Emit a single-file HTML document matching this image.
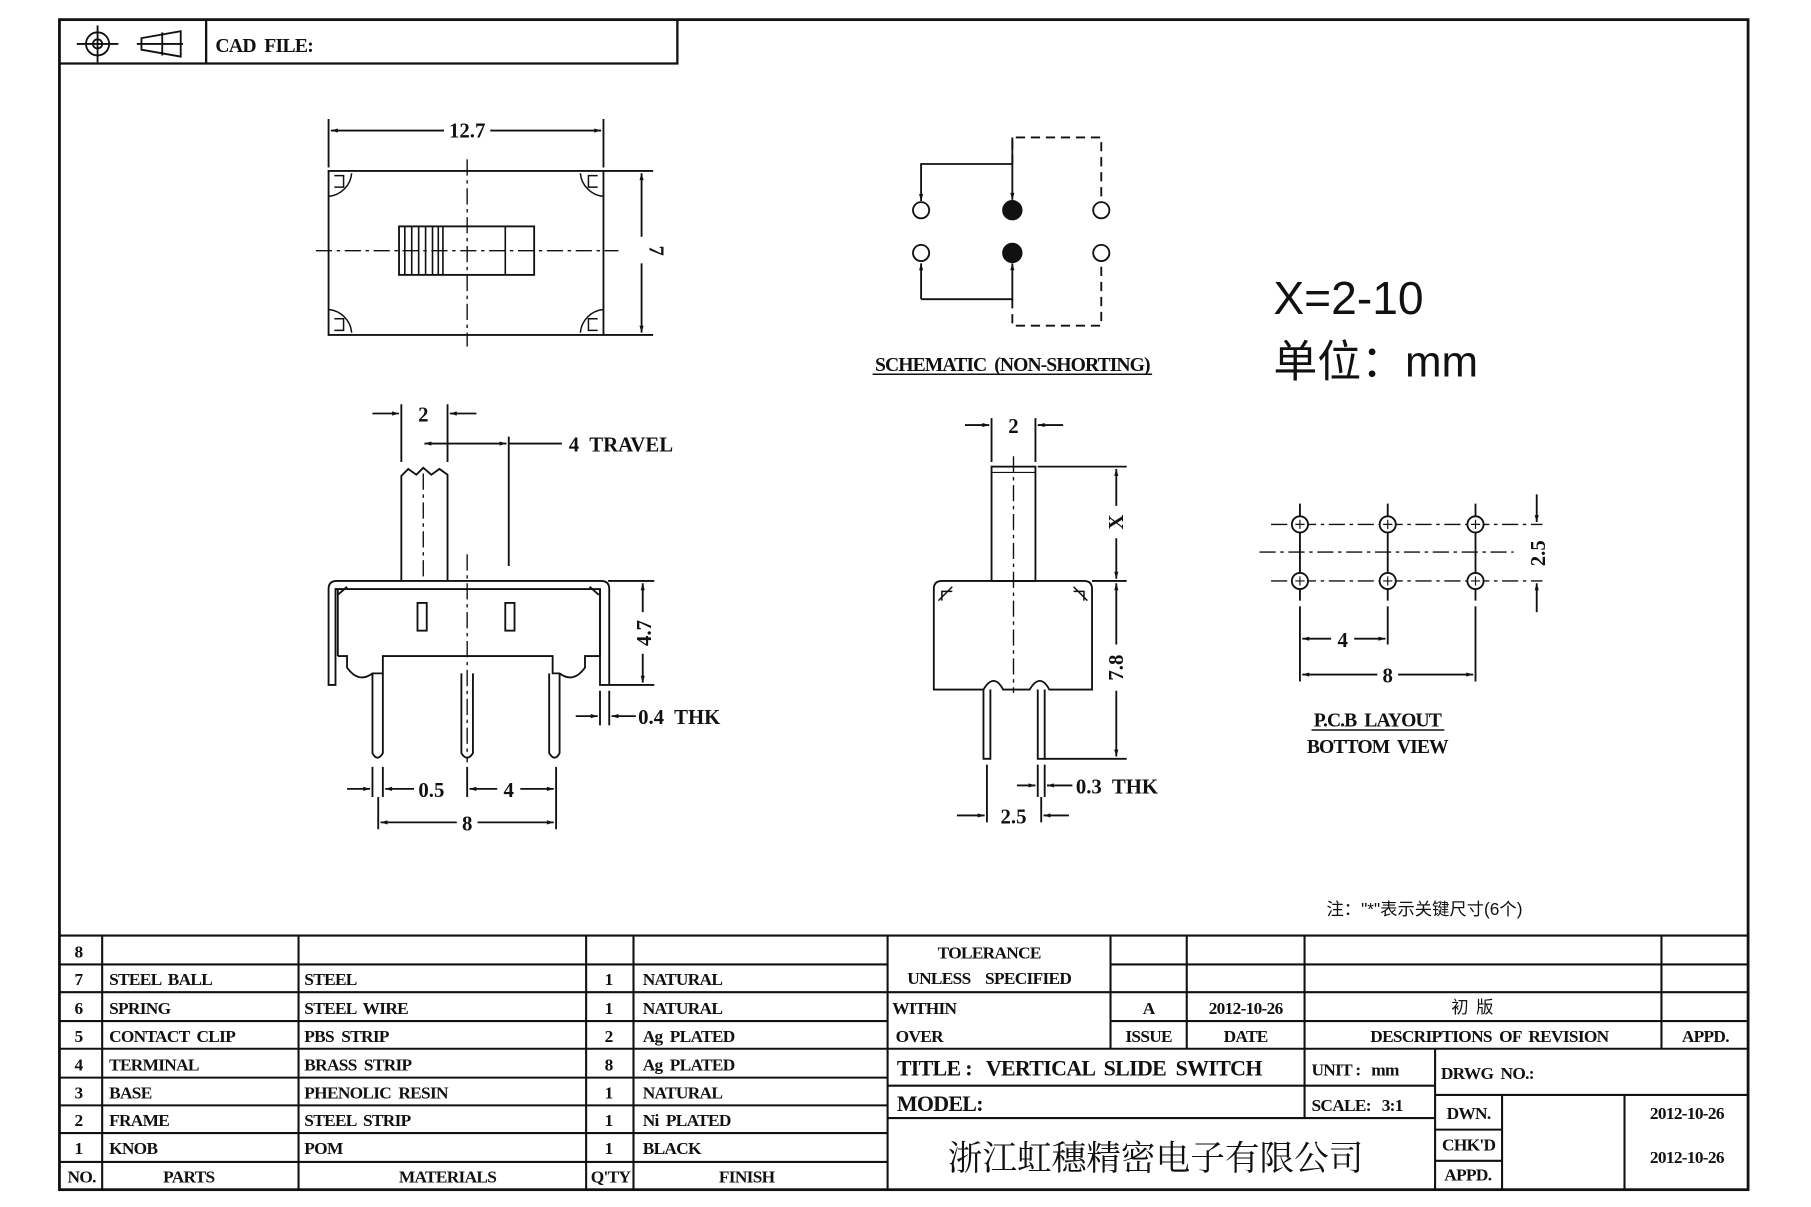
<!DOCTYPE html>
<html><head><meta charset="utf-8"><style>
html,body{margin:0;padding:0;background:#fff}
svg{display:block}
text{font-family:"Liberation Serif","Noto Serif CJK SC",serif;font-weight:bold;fill:#111;white-space:pre}
.t{font-size:15px;letter-spacing:-0.6px}
.d{font-size:18px}
.c{font-family:"Liberation Sans","Noto Sans CJK SC",sans-serif;font-weight:normal}
</style></head><body>
<svg width="1811" height="1207" viewBox="0 0 1567 1045" xmlns="http://www.w3.org/2000/svg">
<defs>
<marker id="a" viewBox="0 0 10 10" refX="10" refY="5" markerWidth="8" markerHeight="6" orient="auto-start-reverse" markerUnits="userSpaceOnUse"><path d="M0,2 L10,5 L0,8z" fill="#111"/></marker>
</defs>
<g fill="none" stroke="#111" stroke-width="1.6">
<rect x="51" y="17" width="1462" height="1013" stroke-width="2.4"/>
<polyline points="51,55 586,55 586,17" stroke-width="2"/>
<line x1="178" y1="17" x2="178" y2="55" stroke-width="2"/>
<circle cx="84" cy="38" r="10"/><circle cx="84" cy="38" r="4"/>
<line x1="66" y1="38" x2="102" y2="38"/><line x1="84" y1="22" x2="84" y2="54"/>
<path d="M118,38 L158,38 M122,33 L156,27 L156,49 L122,43 Z M140,28 L140,48"/>

<rect x="284" y="148" width="238" height="142"/>
<path d="M284,103V145 M522,103V145 M522,148H565 M522,290H565"/>
<line x1="286" y1="113" x2="384" y2="113" marker-start="url(#a)"/>
<line x1="424" y1="113" x2="520" y2="113" marker-end="url(#a)"/>
<line x1="555" y1="150" x2="555" y2="205" marker-start="url(#a)"/>
<line x1="555" y1="228" x2="555" y2="288" marker-end="url(#a)"/>
<line x1="404" y1="138" x2="404" y2="300" stroke-dasharray="14,4,3,4" stroke-width="1.2"/>
<line x1="273" y1="217" x2="535" y2="217" stroke-dasharray="14,4,3,4" stroke-width="1.2"/>
<rect x="345" y="196" width="117" height="42"/>
<path d="M383,196V238 M437,196V238 M350,196V238 M356,196V238 M362,196V238 M368,196V238 M374,196V238 M379,196V238" stroke-width="1.4"/>
<path d="M284,170 A22,22 0 0 0 304,150 M289,152H297V162H289 M522,170 A22,22 0 0 1 502,150 M517,152H509V162H517 M284,268 A22,22 0 0 1 304,288 M289,286H297V276H289 M522,268 A22,22 0 0 0 502,288 M517,286H509V276H517" stroke-width="1.3"/>

<path d="M347,503V412 L353,406 L360,411 L366,405 L373,411 L380,406 L387,411 V503"/>
<line x1="366" y1="410" x2="366" y2="503" stroke-dasharray="14,4,3,4" stroke-width="1.2"/>
<path d="M347,350V400 M387,350V400 M440,378V490"/>
<line x1="322" y1="358" x2="345" y2="358" marker-end="url(#a)"/>
<line x1="412" y1="358" x2="389" y2="358" marker-end="url(#a)"/>
<line x1="367" y1="384" x2="438" y2="384" marker-start="url(#a)" marker-end="url(#a)"/>
<line x1="440" y1="384" x2="486" y2="384"/>
<path d="M284,593V510 Q284,503 291,503 H520 Q527,503 527,510 V593 H519 V510 H290 V593 Z"/>
<path d="M292,568 H300 V578 Q310,592 322,583 H331 V568 H478 V583 H484 Q496,592 506,578 V568 H519 M292,510V568 M519,510V568 M331,568V583 M478,568V583"/>
<path d="M292,515 L300,508 M518,515 L510,508"/>
<rect x="361" y="522" width="8" height="24"/><rect x="437" y="522" width="8" height="24"/>
<line x1="404" y1="480" x2="404" y2="660" stroke-dasharray="14,4,3,4" stroke-width="1.2"/>
<path d="M322,583V652 Q326,660 331,652 V583 M399,583V652 Q404,660 409,652 V583 M475,583V652 Q480,660 484,652 V583"/>
<path d="M526,503H566 M527,593H566"/>
<line x1="556" y1="505" x2="556" y2="530" marker-start="url(#a)"/>
<line x1="556" y1="566" x2="556" y2="591" marker-end="url(#a)"/>
<path d="M519,598V628 M527,598V628"/>
<line x1="498" y1="620" x2="517" y2="620" marker-end="url(#a)"/>
<line x1="550" y1="620" x2="529" y2="620" marker-end="url(#a)"/>
<path d="M322,664V690 M331,664V690 M404,664V690 M481,664V718 M327,690V718"/>
<line x1="300" y1="683" x2="320" y2="683" marker-end="url(#a)"/>
<line x1="358" y1="683" x2="333" y2="683" marker-end="url(#a)"/>
<line x1="406" y1="683" x2="430" y2="683" marker-start="url(#a)"/>
<line x1="450" y1="683" x2="479" y2="683" marker-end="url(#a)"/>
<line x1="329" y1="712" x2="395" y2="712" marker-start="url(#a)"/>
<line x1="413" y1="712" x2="479" y2="712" marker-end="url(#a)"/>

<circle cx="797" cy="182" r="7"/><circle cx="953" cy="182" r="7"/>
<circle cx="797" cy="219" r="7"/><circle cx="953" cy="219" r="7"/>
<circle cx="876" cy="182" r="8" fill="#111"/><circle cx="876" cy="219" r="8" fill="#111"/>
<path d="M876,142 H797 V174" marker-end="url(#a)"/>
<line x1="876" y1="119" x2="876" y2="173" marker-end="url(#a)"/>
<path d="M876,142 V119 H953 V174" stroke-dasharray="8,5"/>
<path d="M797,259 V228" marker-end="url(#a)"/>
<path d="M797,259 H876 V228" marker-end="url(#a)"/>
<path d="M876,259 V282 H953 V228" stroke-dasharray="8,5"/>
<line x1="755" y1="324" x2="997" y2="324" stroke-width="1.3"/>

<rect x="858" y="404" width="38" height="99"/>
<line x1="858" y1="409" x2="896" y2="409" stroke-width="1"/>
<line x1="877" y1="395" x2="877" y2="600" stroke-dasharray="14,4,3,4" stroke-width="1.2"/>
<path d="M858,362V400 M896,362V400"/>
<line x1="835" y1="368" x2="856" y2="368" marker-end="url(#a)"/>
<line x1="920" y1="368" x2="898" y2="368" marker-end="url(#a)"/>
<path d="M808,597 V510 Q808,503 815,503 H938 Q945,503 945,510 V597 H908 Q900,582 891,597 H886 H868 Q860,582 851,597 Z"/>
<path d="M812,520 L824,508 M815,520V512 H824 M941,520 L929,508 M938,520 V512 H929" stroke-width="1.3"/>
<path d="M851,597V657 H857 V597 M898,597V657 H904 V597"/>
<path d="M898,404H975 M945,503H975 M904,657H975"/>
<line x1="966" y1="406" x2="966" y2="438" marker-start="url(#a)"/>
<line x1="966" y1="466" x2="966" y2="501" marker-end="url(#a)"/>
<line x1="966" y1="505" x2="966" y2="558" marker-start="url(#a)"/>
<line x1="966" y1="598" x2="966" y2="655" marker-end="url(#a)"/>
<path d="M898,662V690 M904,662V690 M854,662V712 M901,690V712"/>
<line x1="880" y1="680" x2="896" y2="680" marker-end="url(#a)"/>
<line x1="928" y1="680" x2="906" y2="680" marker-end="url(#a)"/>
<line x1="828" y1="706" x2="852" y2="706" marker-end="url(#a)"/>
<line x1="925" y1="706" x2="903" y2="706" marker-end="url(#a)"/>

<g stroke-dasharray="14,4,3,4" stroke-width="1.2">
<line x1="1100" y1="454" x2="1335" y2="454"/>
<line x1="1090" y1="478" x2="1310" y2="478"/>
<line x1="1100" y1="503" x2="1335" y2="503"/>
</g>
<path d="M1125,436V520 M1201,436V520 M1277,436V520"/>
<g fill="#fff">
<circle cx="1125" cy="454" r="7"/><circle cx="1201" cy="454" r="7"/><circle cx="1277" cy="454" r="7"/>
<circle cx="1125" cy="503" r="7"/><circle cx="1201" cy="503" r="7"/><circle cx="1277" cy="503" r="7"/>
</g>
<path d="M1121,454H1129M1125,450V458 M1197,454H1205M1201,450V458 M1273,454H1281M1277,450V458 M1121,503H1129M1125,499V507 M1197,503H1205M1201,499V507 M1273,503H1281M1277,499V507" stroke-width="1"/>
<line x1="1330" y1="428" x2="1330" y2="452" marker-end="url(#a)"/>
<line x1="1330" y1="530" x2="1330" y2="505" marker-end="url(#a)"/>
<path d="M1125,525V590 M1201,525V558 M1277,525V590"/>
<line x1="1127" y1="553" x2="1152" y2="553" marker-start="url(#a)"/>
<line x1="1172" y1="553" x2="1199" y2="553" marker-end="url(#a)"/>
<line x1="1127" y1="584" x2="1192" y2="584" marker-start="url(#a)"/>
<line x1="1210" y1="584" x2="1275" y2="584" marker-end="url(#a)"/>
<line x1="1135" y1="632" x2="1250" y2="632" stroke-width="1.3"/>

<g stroke-width="1.8">
<line x1="51" y1="810" x2="1513" y2="810"/>
<path d="M51,835H768 M51,859H768 M51,884H768 M51,908H768 M51,933H768 M51,957H768 M51,981H768 M51,1006H768"/>
<path d="M88,810V1030 M258,810V1030 M507,810V1030 M548,810V1030 M768,810V1030"/>
<path d="M961,835H1513 M768,859H1513 M961,884H1513 M768,908H1513"/>
<path d="M961,810V908 M1027,810V908 M1129,810V908 M1438,810V908"/>
<path d="M768,940H1242 M768,968H1242 M1129,908V968 M1242,908V1030 M1242,948H1513 M1242,978H1300 M1242,1005H1300 M1300,948V1030 M1406,948V1030"/>
</g>
</g>

<g class="d" text-anchor="middle">
<text x="404" y="119">12.7</text>
<text transform="translate(562,217) rotate(90)">7</text>
<text x="366" y="365">2</text>
<text x="492" y="391" text-anchor="start">4  TRAVEL</text>
<text transform="translate(563,548) rotate(-90)">4.7</text>
<text x="552" y="627" text-anchor="start">0.4  THK</text>
<text x="373" y="690">0.5</text>
<text x="440" y="690">4</text>
<text x="404" y="719">8</text>
<text x="877" y="375">2</text>
<text transform="translate(972,452) rotate(-90)">X</text>
<text transform="translate(972,578) rotate(-90)">7.8</text>
<text x="931" y="687" text-anchor="start">0.3  THK</text>
<text x="877" y="713">2.5</text>
<text transform="translate(1337,479) rotate(-90)">2.5</text>
<text x="1162" y="560">4</text>
<text x="1201" y="591">8</text>
</g>
<text x="876" y="321" text-anchor="middle" style="font-size:17px;letter-spacing:-0.8px">SCHEMATIC  (NON-SHORTING)</text>
<text x="1192" y="629" text-anchor="middle" style="font-size:17px;letter-spacing:-0.8px">P.C.B  LAYOUT</text>
<text x="1192" y="652" text-anchor="middle" style="font-size:17px;letter-spacing:-0.8px">BOTTOM  VIEW</text>
<text x="1102" y="272" class="c" style="font-size:40px">X=2-10</text>
<text x="1102" y="326" class="c" style="font-size:38px">单位：mm</text>
<text x="1148" y="792" class="c" style="font-size:15px">注："*"表示关键尺寸(6个)</text>
<text x="186" y="45" style="font-size:17px;letter-spacing:-0.6px">CAD  FILE:</text>

<g class="t">
<text x="64" y="829">8</text>
<text x="64" y="853">7</text><text x="94" y="853">STEEL  BALL</text><text x="263" y="853">STEEL</text><text x="523" y="853">1</text><text x="556" y="853">NATURAL</text>
<text x="64" y="878">6</text><text x="94" y="878">SPRING</text><text x="263" y="878">STEEL  WIRE</text><text x="523" y="878">1</text><text x="556" y="878">NATURAL</text>
<text x="64" y="902">5</text><text x="94" y="902">CONTACT  CLIP</text><text x="263" y="902">PBS  STRIP</text><text x="523" y="902">2</text><text x="556" y="902">Ag  PLATED</text>
<text x="64" y="927">4</text><text x="94" y="927">TERMINAL</text><text x="263" y="927">BRASS  STRIP</text><text x="523" y="927">8</text><text x="556" y="927">Ag  PLATED</text>
<text x="64" y="951">3</text><text x="94" y="951">BASE</text><text x="263" y="951">PHENOLIC  RESIN</text><text x="523" y="951">1</text><text x="556" y="951">NATURAL</text>
<text x="64" y="975">2</text><text x="94" y="975">FRAME</text><text x="263" y="975">STEEL  STRIP</text><text x="523" y="975">1</text><text x="556" y="975">Ni  PLATED</text>
<text x="64" y="999">1</text><text x="94" y="999">KNOB</text><text x="263" y="999">POM</text><text x="523" y="999">1</text><text x="556" y="999">BLACK</text>
<text x="58" y="1024">NO.</text><text x="163" y="1024" text-anchor="middle">PARTS</text><text x="387" y="1024" text-anchor="middle">MATERIALS</text><text x="511" y="1024">Q'TY</text><text x="646" y="1024" text-anchor="middle">FINISH</text>
<text x="856" y="830" text-anchor="middle">TOLERANCE</text>
<text x="856" y="852" text-anchor="middle">UNLESS    SPECIFIED</text>
<text x="772" y="878">WITHIN</text><text x="775" y="902">OVER</text>
<text x="994" y="878" text-anchor="middle">A</text><text x="1078" y="878" text-anchor="middle">2012-10-26</text>
<text x="1274" y="877" text-anchor="middle" class="c">初  版</text>
<text x="994" y="902" text-anchor="middle">ISSUE</text><text x="1078" y="902" text-anchor="middle">DATE</text>
<text x="1289" y="902" text-anchor="middle">DESCRIPTIONS  OF  REVISION</text><text x="1476" y="902" text-anchor="middle">APPD.</text>
<text x="776" y="931" style="font-size:19px">TITLE :   VERTICAL  SLIDE  SWITCH</text>
<text x="776" y="962" style="font-size:19px">MODEL:</text>
<text x="1135" y="931">UNIT :   mm</text>
<text x="1135" y="962">SCALE:   3:1</text>
<text x="1247" y="934">DRWG  NO.:</text>
<text x="1252" y="969">DWN.</text><text x="1248" y="996">CHK'D</text><text x="1250" y="1022">APPD.</text>
<text x="1460" y="969" text-anchor="middle">2012-10-26</text>
<text x="1460" y="1007" text-anchor="middle">2012-10-26</text>
</g>
<text x="1000" y="1013" text-anchor="middle" class="c" style="font-family:'Noto Serif CJK SC',serif;font-size:30px">浙江虹穗精密电子有限公司</text>
</svg>
</body></html>
